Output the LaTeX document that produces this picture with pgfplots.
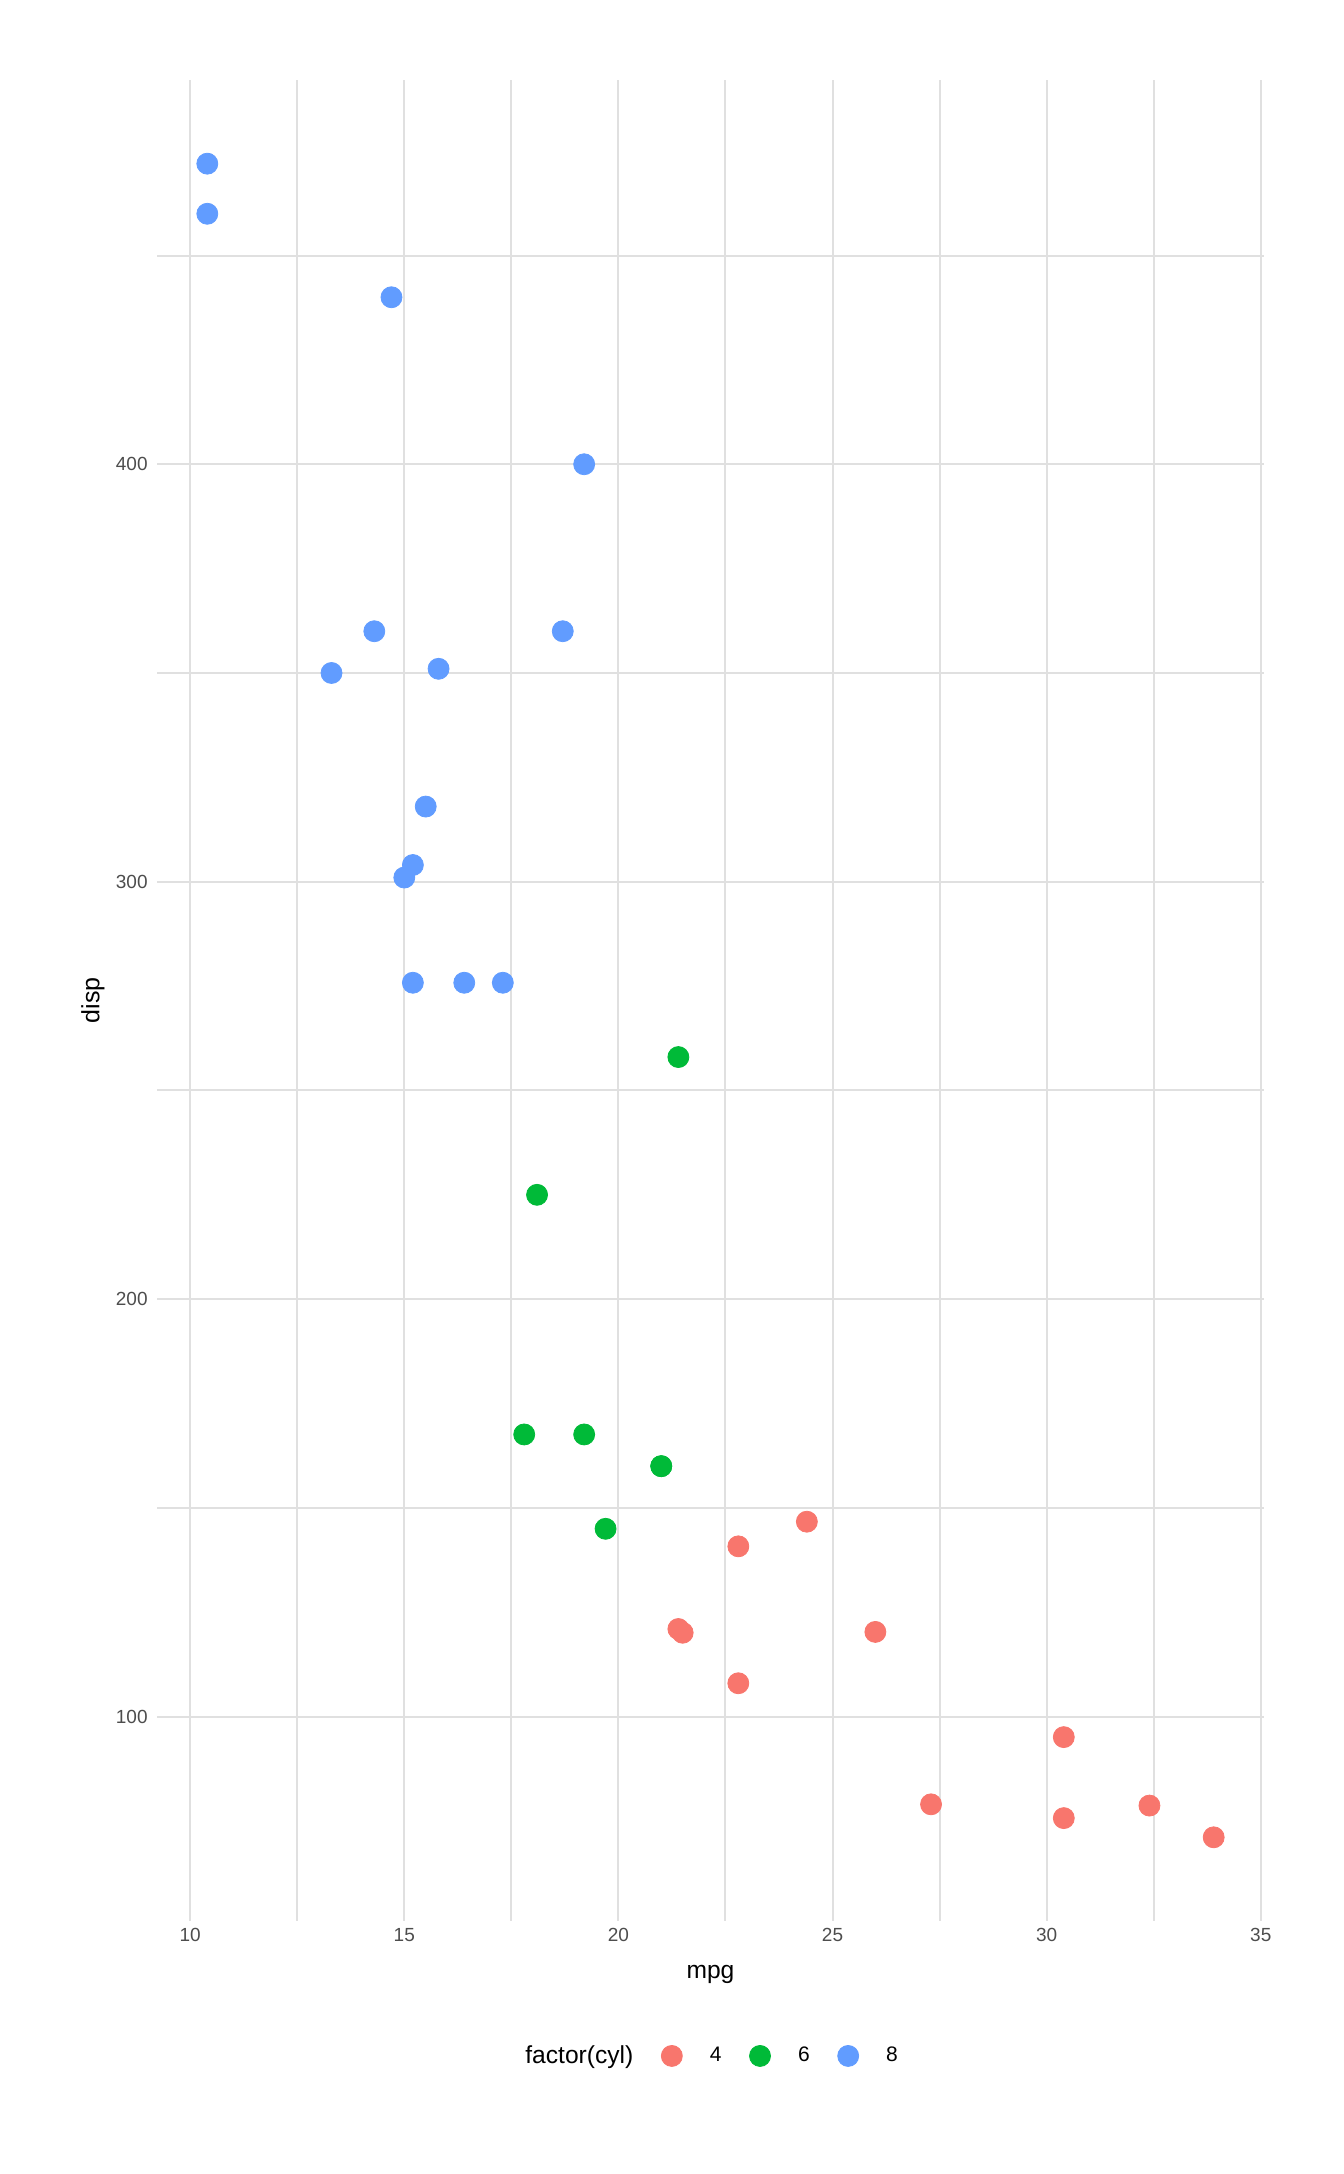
\documentclass[border=0pt]{standalone}
\usepackage{fontspec}
\setmainfont{Liberation Sans}
\usepackage{pgfplots}
\pgfplotsset{compat=1.18}

\definecolor{c4}{HTML}{F8766D}
\definecolor{c6}{HTML}{00BA38}
\definecolor{c8}{HTML}{619CFF}
\definecolor{gridc}{HTML}{E0E0E0}
\definecolor{tickc}{HTML}{4D4D4D}

% mtcars: mpg, disp, split by cyl
\pgfplotstableread{
mpg disp
22.8 108
24.4 146.7
22.8 140.8
32.4 78.7
30.4 75.7
33.9 71.1
21.5 120.1
27.3 79
26.0 120.3
30.4 95.1
21.4 121
}\cylfour
\pgfplotstableread{
mpg disp
21.0 160
21.0 160
21.4 258
18.1 225
19.2 167.6
17.8 167.6
19.7 145
}\cylsix
\pgfplotstableread{
mpg disp
18.7 360
14.3 360
16.4 275.8
17.3 275.8
15.2 275.8
10.4 472
10.4 460
14.7 440
15.5 318
15.2 304
13.3 350
19.2 400
15.8 351
15.0 301
}\cyleight

\begin{document}
\begin{tikzpicture}
\path[use as bounding box] (0pt,0pt) rectangle (672pt,1087pt);
\begin{axis}[
    at={(78.5pt,126.5pt)}, anchor=south west,
    scale only axis,
    width=553.5pt, height=920.5pt,
    xmin=9.225, xmax=35.075,
    ymin=51.055, ymax=492.045,
    xtick={10,15,20,25,30,35},
    minor xtick={12.5,17.5,22.5,27.5,32.5},
    ytick={100,200,300,400},
    minor ytick={150,250,350,450},
    grid=both,
    major grid style={draw=gridc, line width=1pt},
    minor grid style={draw=gridc, line width=1pt},
    axis line style={draw=none},
    major tick length=0pt, minor tick length=0pt,
    /pgf/number format/assume math mode=true,
    tick label style={font=\fontsize{9.5}{11}\selectfont, text=tickc},
    xticklabel style={inner sep=0pt, anchor=north, yshift=-3.5pt},
    yticklabel style={inner sep=0pt, anchor=east, xshift=-4.5pt},
    xlabel={mpg}, ylabel={disp},
    every axis x label/.style={at={(axis description cs:0.5,0)}, anchor=base,
        yshift=-29pt, font=\fontsize{12.3}{14}\selectfont},
    every axis y label/.style={at={(axis description cs:-0.0578,0.5)}, anchor=center,
        rotate=90, font=\fontsize{12.5}{14}\selectfont},
    legend columns=-1,
    legend style={at={(axis description cs:0.3324,-0.0733)}, anchor=west,
        draw=none, fill=none, inner sep=0pt, column sep=0pt,
        font=\fontsize{10.5}{12}\selectfont,
        nodes={inner xsep=0pt, inner ysep=1pt}},
    legend image code/.code={
        \path[draw=none] (-14pt,0pt) -- (24.25pt,0pt);
        \draw[#1] plot[only marks] coordinates {(5.25pt,0pt)};
    },
]
\addlegendimage{empty legend}
\addlegendentry{\fontsize{12.3}{14}\selectfont factor(cyl)}

\addplot[only marks, mark=*, mark size=5.25pt, color=c4, mark options={draw=none, fill=c4}]
    table[x=mpg, y=disp] {\cylfour};
\addlegendentry{4}
\addplot[only marks, mark=*, mark size=5.25pt, color=c6, mark options={draw=none, fill=c6}]
    table[x=mpg, y=disp] {\cylsix};
\addlegendentry{6}
\addplot[only marks, mark=*, mark size=5.25pt, color=c8, mark options={draw=none, fill=c8}]
    table[x=mpg, y=disp] {\cyleight};
\addlegendentry{8}
\end{axis}
\end{tikzpicture}
\end{document}
